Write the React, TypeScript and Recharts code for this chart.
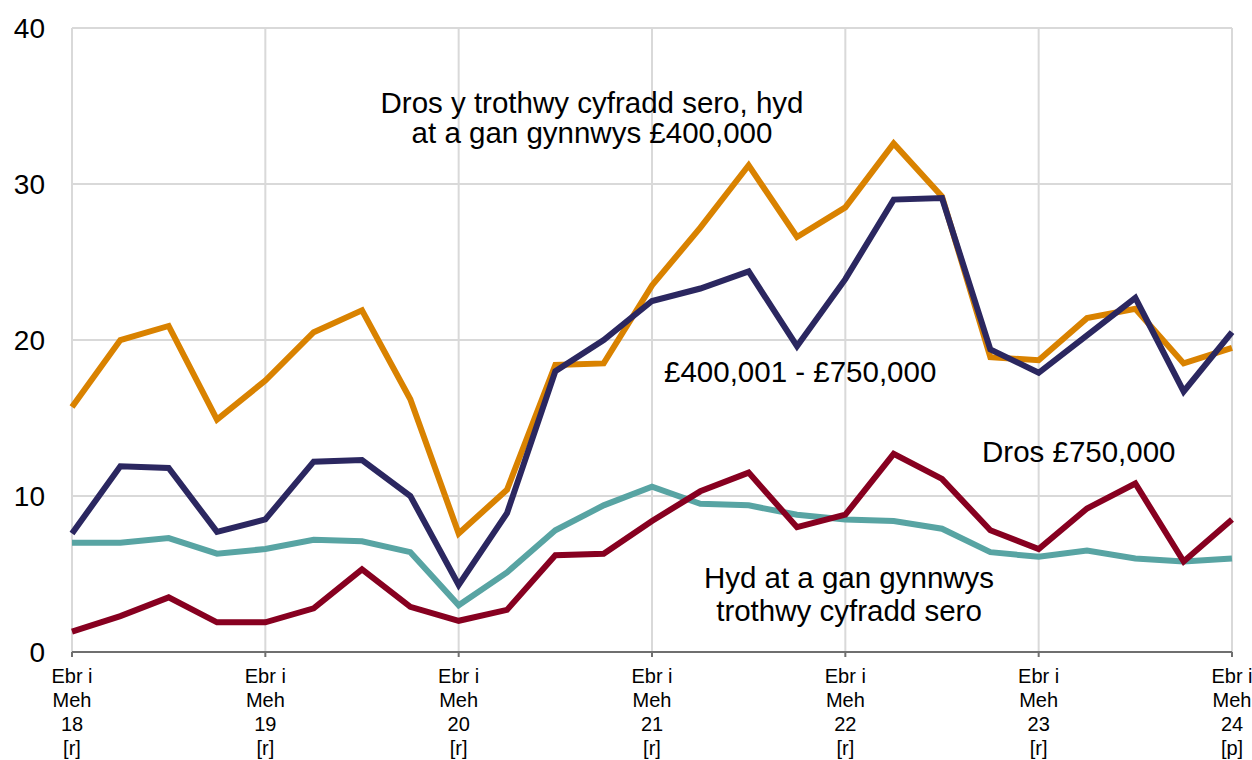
import React from "react";
import { CartesianGrid, Line, LineChart, XAxis, YAxis } from "recharts";

// Quarter labels, "|" marks a line break in the axis label
const quarters = [
  "Ebr i|Meh|18|[r]", "Gor i|Med|18|[r]", "Hyd i|Rha|18|[r]", "Ion i|Maw|19|[r]",
  "Ebr i|Meh|19|[r]", "Gor i|Med|19|[r]", "Hyd i|Rha|19|[r]", "Ion i|Maw|20|[r]",
  "Ebr i|Meh|20|[r]", "Gor i|Med|20|[r]", "Hyd i|Rha|20|[r]", "Ion i|Maw|21|[r]",
  "Ebr i|Meh|21|[r]", "Gor i|Med|21|[r]", "Hyd i|Rha|21|[r]", "Ion i|Maw|22|[r]",
  "Ebr i|Meh|22|[r]", "Gor i|Med|22|[r]", "Hyd i|Rha|22|[r]", "Ion i|Maw|23|[r]",
  "Ebr i|Meh|23|[r]", "Gor i|Med|23|[r]", "Hyd i|Rha|23|[r]", "Ion i|Maw|24|[r]",
  "Ebr i|Meh|24|[p]",
];

const upToZeroRate = [
  7.0, 7.0, 7.3, 6.3, 6.6, 7.2, 7.1, 6.4, 3.0, 5.1, 7.8, 9.4, 10.6,
  9.5, 9.4, 8.8, 8.5, 8.4, 7.9, 6.4, 6.1, 6.5, 6.0, 5.8, 6.0,
];
const zeroRateTo400k = [
  15.7, 20.0, 20.9, 14.9, 17.4, 20.5, 21.9, 16.2, 7.6, 10.4, 18.4, 18.5, 23.5,
  27.2, 31.2, 26.6, 28.5, 32.6, 29.2, 18.9, 18.7, 21.4, 22.0, 18.5, 19.5,
];
const from400kTo750k = [
  7.6, 11.9, 11.8, 7.7, 8.5, 12.2, 12.3, 10.0, 4.3, 8.9, 18.0, 20.0, 22.5,
  23.3, 24.4, 19.6, 23.9, 29.0, 29.1, 19.4, 17.9, 20.3, 22.7, 16.7, 20.5,
];
const over750k = [
  1.3, 2.3, 3.5, 1.9, 1.9, 2.8, 5.3, 2.9, 2.0, 2.7, 6.2, 6.3, 8.4,
  10.3, 11.5, 8.0, 8.8, 12.7, 11.1, 7.8, 6.6, 9.2, 10.8, 5.8, 8.5,
];

const xTicks = [0, 4, 8, 12, 16, 20, 24];
const yTicks = [0, 10, 20, 30, 40];

const data = quarters.map((q, i) => ({
  idx: i,
  quarter: q,
  upToZeroRate: upToZeroRate[i],
  zeroRateTo400k: zeroRateTo400k[i],
  from400kTo750k: from400kTo750k[i],
  over750k: over750k[i],
}));

const FONT = "'Liberation Sans', Arial, sans-serif";

function XTick({ x, y, payload }: any) {
  const lines = quarters[payload.value].split("|");
  return (
    <g>
      <line x1={x} x2={x} y1={y} y2={y + 5} stroke="#6f6f6f" strokeWidth={2} />
      {lines.map((l, i) => (
        <text key={i} x={x} y={y + 31 + i * 24} textAnchor="middle" fontSize={20} fill="#000" fontFamily={FONT}>
          {l}
        </text>
      ))}
    </g>
  );
}

function YTick({ x, y, payload }: any) {
  return (
    <text x={x} y={y} dy="0.36em" textAnchor="end" fontSize={28} fill="#000" fontFamily={FONT}>
      {payload.value}
    </text>
  );
}

const labelStyle = { fontSize: 29.5, fill: "#000", fontFamily: FONT };

export default function App() {
  return (
    <div style={{ position: "absolute", left: 0, top: 0, width: 1252, height: 760, background: "#fff" }}>
      <LineChart width={1252} height={760} data={data} margin={{ top: 28, right: 20, left: 0, bottom: 0 }}>
        <CartesianGrid stroke="#d9d9d9" strokeWidth={2} />
        <XAxis
          dataKey="idx"
          type="number"
          domain={[0, 24]}
          ticks={xTicks}
          interval={0}
          height={108}
          tick={<XTick />}
          tickLine={false}
          tickSize={0}
          tickMargin={0}
          axisLine={{ stroke: "#6f6f6f", strokeWidth: 2 }}
        />
        <YAxis
          domain={[0, 40]}
          ticks={yTicks}
          width={72}
          tick={<YTick />}
          tickLine={false}
          tickSize={0}
          tickMargin={27}
          axisLine={false}
        />
        <Line dataKey="zeroRateTo400k" stroke="#d98200" strokeWidth={6} dot={false} isAnimationActive={false} strokeLinejoin="miter" />
        <Line dataKey="upToZeroRate" stroke="#58a4a3" strokeWidth={6} dot={false} isAnimationActive={false} strokeLinejoin="miter" />
        <Line dataKey="from400kTo750k" stroke="#2b2760" strokeWidth={6} dot={false} isAnimationActive={false} strokeLinejoin="miter" />
        <Line dataKey="over750k" stroke="#870020" strokeWidth={6} dot={false} isAnimationActive={false} strokeLinejoin="miter" />
      </LineChart>
      <svg width={1252} height={760} style={{ position: "absolute", left: 0, top: 0, pointerEvents: "none" }}>
        <text x={592} y={113} textAnchor="middle" {...labelStyle}>Dros y trothwy cyfradd sero, hyd</text>
        <text x={592} y={143} textAnchor="middle" {...labelStyle}>at a gan gynnwys £400,000</text>
        <text x={664} y={382} {...labelStyle}>£400,001 - £750,000</text>
        <text x={982} y={462} {...labelStyle}>Dros £750,000</text>
        <text x={849} y={588} textAnchor="middle" {...labelStyle}>Hyd at a gan gynnwys</text>
        <text x={849} y={621} textAnchor="middle" {...labelStyle}>trothwy cyfradd sero</text>
      </svg>
    </div>
  );
}
